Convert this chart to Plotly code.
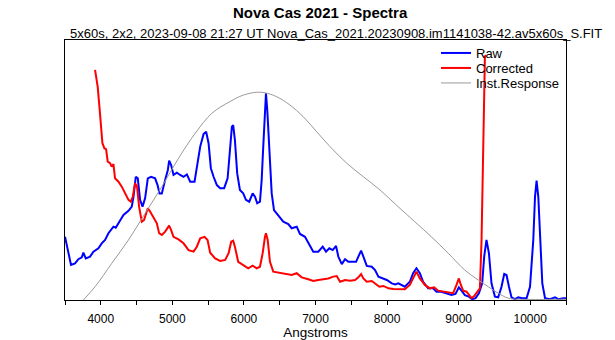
import plotly.graph_objects as go

# Wavelength (Angstrom) and relative intensity
raw_wl = [3500, 3584, 3640, 3687, 3734, 3757, 3790, 3850, 3897, 3967, 4013, 4060, 4107, 4177, 4209,
          4269, 4317, 4387, 4433, 4457, 4489, 4517, 4549, 4583, 4619, 4657, 4703, 4759, 4793, 4821,
          4853, 4899, 4937, 4955, 4983, 5016, 5063, 5109, 5156, 5203, 5249, 5310, 5342, 5389, 5436,
          5472, 5506, 5538, 5576, 5622, 5668, 5724, 5772, 5808, 5832, 5850, 5874, 5906, 5944, 5990,
          6028, 6074, 6122, 6154, 6186, 6224, 6248, 6270, 6294, 6308, 6326, 6354, 6388, 6420, 6480,
          6550, 6620, 6667, 6737, 6783, 6853, 6899, 6969, 7039, 7101, 7147, 7193, 7241, 7287, 7319,
          7367, 7413, 7459, 7521, 7567, 7599, 7637, 7669, 7716, 7786, 7832, 7879, 7940, 7996, 8066,
          8112, 8158, 8248, 8318, 8364, 8410, 8458, 8504, 8574, 8644, 8690, 8760, 8830, 8900, 8956,
          9003, 9040, 9087, 9143, 9189, 9236, 9283, 9329, 9357, 9389, 9423, 9459, 9507, 9553, 9599,
          9637, 9669, 9703, 9739, 9787, 9833, 9889, 9949, 9997, 10043, 10067, 10089, 10113, 10137,
          10169, 10207, 10276, 10346, 10392, 10462, 10500]
raw_flux = [0.243, 0.135, 0.141, 0.157, 0.164, 0.182, 0.160, 0.167, 0.186, 0.199, 0.218, 0.231, 0.257,
            0.282, 0.278, 0.308, 0.327, 0.343, 0.359, 0.397, 0.474, 0.468, 0.385, 0.359, 0.391, 0.468,
            0.474, 0.468, 0.442, 0.410, 0.410, 0.462, 0.500, 0.536, 0.519, 0.481, 0.490, 0.481, 0.474,
            0.483, 0.455, 0.455, 0.513, 0.590, 0.638, 0.647, 0.603, 0.507, 0.474, 0.442, 0.430, 0.430,
            0.468, 0.577, 0.667, 0.673, 0.615, 0.487, 0.423, 0.410, 0.385, 0.378, 0.410, 0.397, 0.372,
            0.378, 0.462, 0.590, 0.769, 0.795, 0.731, 0.564, 0.410, 0.346, 0.327, 0.301, 0.292, 0.276,
            0.282, 0.254, 0.243, 0.218, 0.186, 0.186, 0.205, 0.186, 0.199, 0.192, 0.208, 0.167, 0.138,
            0.157, 0.147, 0.147, 0.147, 0.167, 0.190, 0.167, 0.131, 0.128, 0.115, 0.090, 0.083, 0.077,
            0.064, 0.060, 0.064, 0.051, 0.070, 0.103, 0.122, 0.103, 0.070, 0.045, 0.045, 0.032, 0.032,
            0.026, 0.019, 0.023, 0.049, 0.036, 0.019, 0.013, 0.003, 0.007, 0.026, 0.064, 0.167, 0.231,
            0.180, 0.064, 0.013, 0.010, 0.051, 0.100, 0.096, 0.051, 0.010, 0.003, 0.010, 0.007, 0.007,
            0.051, 0.231, 0.397, 0.459, 0.397, 0.231, 0.064, 0.007, 0.003, 0.010, 0.003, 0.007, 0.007]

corr_wl = [3920, 3957, 3981, 4004, 4023, 4051, 4074, 4097, 4130, 4153, 4177, 4199, 4247, 4293, 4339,
           4387, 4419, 4447, 4479, 4507, 4535, 4573, 4605, 4629, 4657, 4689, 4737, 4783, 4815, 4853,
           4899, 4955, 4983, 5016, 5086, 5156, 5226, 5296, 5342, 5389, 5450, 5492, 5528, 5598, 5668,
           5738, 5786, 5822, 5850, 5874, 5920, 5990, 6060, 6122, 6178, 6224, 6262, 6294, 6308, 6332,
           6364, 6410, 6480, 6574, 6667, 6737, 6807, 6899, 6969, 7039, 7109, 7179, 7249, 7297, 7343,
           7413, 7483, 7553, 7599, 7637, 7669, 7716, 7786, 7832, 7893, 7949, 8019, 8088, 8158, 8248,
           8318, 8364, 8410, 8458, 8528, 8598, 8658, 8714, 8784, 8854, 8924, 8970, 9003, 9031, 9063,
           9110, 9143, 9180, 9217, 9263, 9297, 9320, 9343, 9367, 9381]
corr_flux = [0.885, 0.820, 0.743, 0.667, 0.603, 0.583, 0.580, 0.532, 0.526, 0.513, 0.523, 0.468, 0.455,
             0.436, 0.410, 0.385, 0.378, 0.397, 0.449, 0.436, 0.359, 0.301, 0.308, 0.333, 0.353, 0.340,
             0.314, 0.295, 0.257, 0.250, 0.263, 0.286, 0.269, 0.243, 0.233, 0.218, 0.192, 0.186, 0.205,
             0.237, 0.243, 0.231, 0.182, 0.160, 0.150, 0.154, 0.180, 0.224, 0.228, 0.205, 0.147, 0.135,
             0.122, 0.132, 0.122, 0.128, 0.180, 0.243, 0.257, 0.231, 0.147, 0.109, 0.105, 0.099, 0.096,
             0.103, 0.087, 0.080, 0.073, 0.077, 0.080, 0.083, 0.090, 0.092, 0.070, 0.077, 0.074, 0.077,
             0.087, 0.100, 0.083, 0.070, 0.073, 0.062, 0.051, 0.054, 0.045, 0.042, 0.041, 0.041, 0.058,
             0.083, 0.109, 0.083, 0.058, 0.045, 0.049, 0.036, 0.032, 0.028, 0.026, 0.058, 0.083, 0.058,
             0.036, 0.032, 0.019, 0.007, 0.015, 0.032, 0.045, 0.231, 0.615, 0.936, 0.942]

resp_wl = [3757, 3920, 4153, 4387, 4619, 4853, 5086, 5319, 5552, 5804, 5990, 6178, 6294, 6457, 6643,
           6829, 7017, 7203, 7437, 7669, 7902, 8154, 8388, 8620, 8854, 9087, 9273, 9415, 9553, 9693,
           9833, 10500]
resp_flux = [0.000, 0.051, 0.141, 0.231, 0.333, 0.436, 0.545, 0.641, 0.718, 0.763, 0.788, 0.799, 0.797,
             0.782, 0.750, 0.705, 0.647, 0.590, 0.526, 0.474, 0.423, 0.359, 0.301, 0.243, 0.180, 0.115,
             0.077, 0.051, 0.026, 0.007, 0.003, 0.003]

tick_vals = [4000, 5000, 6000, 7000, 8000, 9000, 10000]
tick_text = ["4000", "5000", "6000", "7000", "8000", "9000", "10000"]

FONT = "Liberation Sans, Arial, sans-serif"
PLOT_L, PLOT_R, PLOT_T, PLOT_B = 65, 566, 40, 300
PW, PH = PLOT_R - PLOT_L, PLOT_B - PLOT_T


def px_to_paper_x(px):
    return (px - PLOT_L) / PW


def px_to_paper_y(py):
    return (PLOT_B - py) / PH


fig = go.Figure()
fig.add_trace(go.Scatter(x=raw_wl, y=raw_flux, mode="lines", name="Raw",
                         line=dict(color="#0000FF", width=2), legend="legend"))
fig.add_trace(go.Scatter(x=corr_wl, y=corr_flux, mode="lines", name="Corrected",
                         line=dict(color="#FF0000", width=2), legend="legend2"))
fig.add_trace(go.Scatter(x=resp_wl, y=resp_flux, mode="lines", name="Inst.Response",
                         line=dict(color="#999999", width=1, shape="spline"), legend="legend3"))

legend_common = dict(x=px_to_paper_x(436), xanchor="left", yanchor="middle",
                     bgcolor="rgba(0,0,0,0)", font=dict(size=13, color="black"),
                     borderwidth=0)

fig.update_layout(
    width=615, height=340,
    margin=dict(l=PLOT_L, r=615 - PLOT_R, t=PLOT_T, b=340 - PLOT_B, autoexpand=False),
    paper_bgcolor="white", plot_bgcolor="white",
    font=dict(family=FONT, size=12, color="black"),
    showlegend=True,
    legend=dict(legend_common, y=px_to_paper_y(53)),
    legend2=dict(legend_common, y=px_to_paper_y(68)),
    legend3=dict(legend_common, y=px_to_paper_y(83)),
    xaxis=dict(range=[3500, 10500], tickvals=tick_vals, ticktext=tick_text,
               ticks="outside", ticklen=4, tickcolor="black", ticklabelstandoff=4,
               minor=dict(dtick=500, tick0=3500, ticks="outside", ticklen=4, tickcolor="black"),
               showline=True, linecolor="black", linewidth=1, mirror=True,
               showgrid=False, zeroline=False, automargin=False,
               title=dict(text="Angstroms", font=dict(size=13.5), standoff=2),
               tickfont=dict(size=12)),
    yaxis=dict(range=[0, 1], showticklabels=False, ticks="",
               showline=True, linecolor="black", linewidth=1, mirror=True,
               showgrid=False, zeroline=False, automargin=False),
    annotations=[
        dict(text="<b>Nova Cas 2021 - Spectra</b>", xref="paper", yref="paper",
             x=px_to_paper_x(320), y=px_to_paper_y(13), xanchor="center", yanchor="middle",
             showarrow=False, font=dict(size=15, color="black")),
        dict(text="5x60s, 2x2, 2023-09-08 21:27 UT Nova_Cas_2021.20230908.im1141038-42.av5x60s_S.FIT",
             xref="paper", yref="paper",
             x=px_to_paper_x(336), y=px_to_paper_y(33), xanchor="center", yanchor="middle",
             showarrow=False, font=dict(size=13, color="black")),
    ],
)

fig.write_html("out.html")
